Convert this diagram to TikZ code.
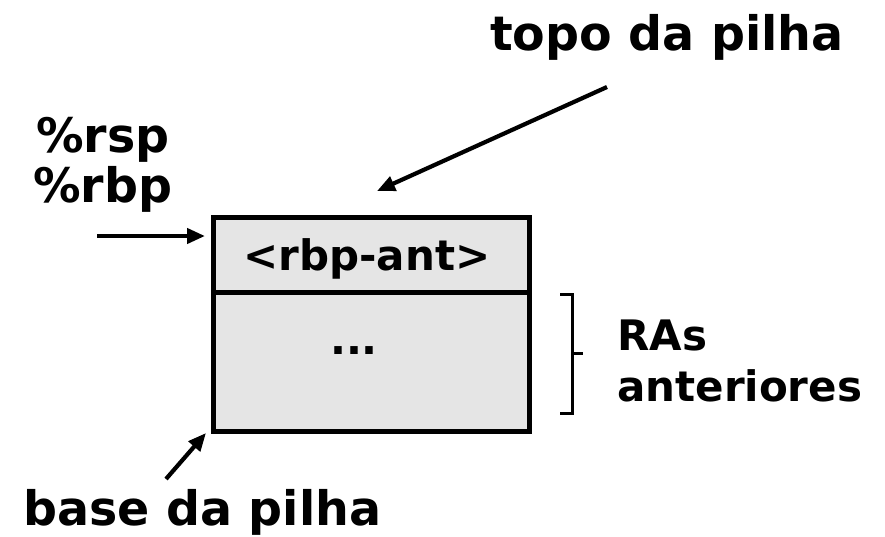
\documentclass[tikz,border=0pt]{standalone}
\usepackage{fontspec}
\setmainfont{DejaVu Sans}
\usetikzlibrary{arrows.meta}
\begin{document}
\begin{tikzpicture}[x=1pt,y=-1pt,
  lbl/.style={font=\bfseries\fontsize{47.5}{52}\selectfont, inner sep=0pt, anchor=base west},
  lblsm/.style={font=\bfseries\fontsize{42}{52}\selectfont, inner sep=0pt},
  cell/.style={draw=black, line width=5pt, fill=black!10, minimum width=316pt, inner sep=0pt},
  arr/.style={line width=4.2pt, -{Triangle[length=18pt,width=15pt]}},
  brace/.style={line width=3pt}]
\useasboundingbox (0,0) rectangle (885,536);
% cells
\node[cell, minimum height=75pt] (top) at (371.5,254.5) {};
\node[cell, minimum height=139pt] (bot) at (371.5,361.5) {};
\node[lblsm, anchor=base] (rbpant) at (367,270) {<rbp-ant>};
\node[lblsm, anchor=base] (dots) at (354,354) {...};
% labels
\node[lbl] (topo) at (490,50) {topo da pilha};
\node[lbl] (rsp) at (36,152) {\%rsp};
\node[lbl] (rbp) at (33,202) {\%rbp};
\node[lbl] (base) at (23,525) {base da pilha};
\node[lblsm, anchor=base west] (ras) at (617,350) {RAs};
\node[lblsm, anchor=base west] (ant) at (617,401) {anteriores};
% arrow endpoints
\coordinate (rbptail) at (97,236);
\coordinate (rbptip) at (205,236);
\coordinate (topotail) at (607,87);
\coordinate (topotip) at (377,191);
\coordinate (basetail) at (166,479);
\coordinate (basetip) at (206,433);
\draw[arr] (rbptail) -- (rbptip);
\draw[arr] (topotail) -- (topotip);
\draw[arr] (basetail) -- (basetip);
% brace
\coordinate (bt) at (560,294);
\coordinate (bb) at (560,413);
\draw[brace] (bt) -- ++(12,0) |- (bb);
\draw[brace] (572,353) -- (583,353);
\end{tikzpicture}
\end{document}
